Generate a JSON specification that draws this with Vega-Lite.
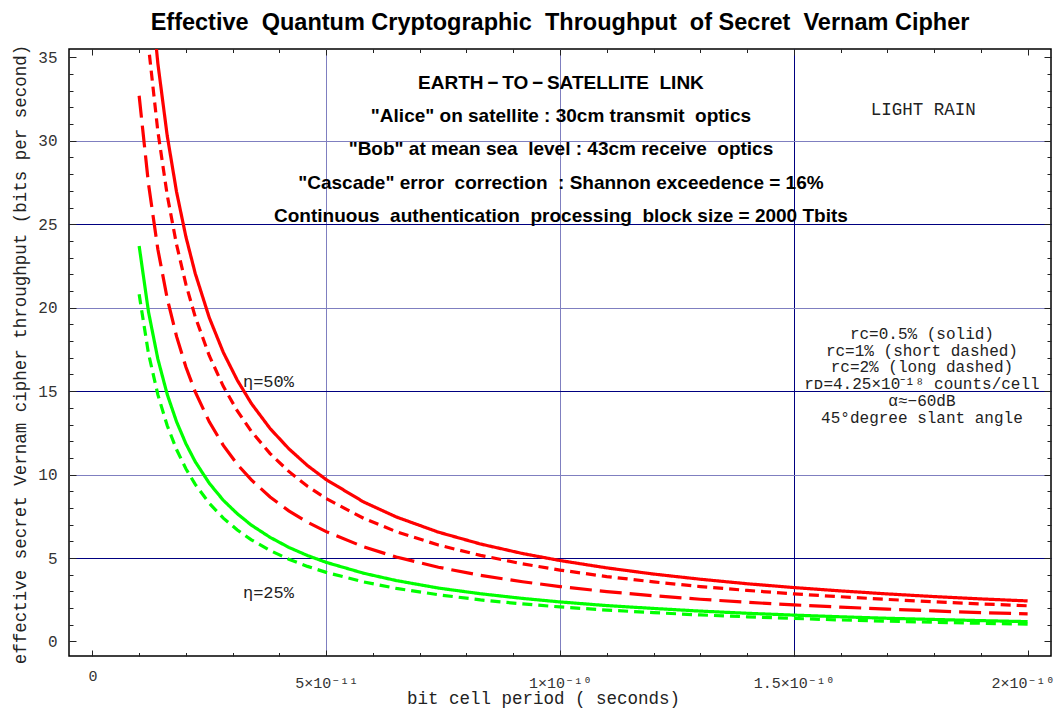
{
  "$schema": "https://vega.github.io/schema/vega-lite/v6.json",
  "width": 982,
  "height": 607,
  "autosize": "none",
  "padding": {"left": 69, "top": 49, "right": 7, "bottom": 52},
  "background": "white",
  "config": {"view": {"stroke": "black", "strokeWidth": 1.5}},
  "title": {
    "text": "Effective\u00a0 Quantum Cryptographic\u00a0 Throughput\u00a0 of Secret\u00a0 Vernam Cipher",
    "font": "Liberation Sans",
    "fontSize": 23.5,
    "fontWeight": "bold",
    "color": "black",
    "anchor": "middle",
    "baseline": "alphabetic",
    "offset": 12,
    "dy": 21
  },
  "layer": [
    {
      "data": {"values": [{}]},
      "mark": {"type": "point", "opacity": 0},
      "encoding": {
        "x": {"datum": 0, "type": "quantitative",
          "scale": {"domain": [-5e-12, 2.05e-10], "nice": false, "zero": false},
          "axis": {"orient": "bottom", "values": [5e-11, 1e-10, 1.5e-10], "grid": true, "ticks": false, "labels": false, "domain": false, "title": null,
            "gridWidth": 1, "gridOpacity": 1,
            "gridColor": {"condition": {"test": "round(datum.value*1e11) === 15", "value": "#000080"}, "value": "#7f7fc0"}}},
        "y": {"datum": 0, "type": "quantitative",
          "scale": {"domain": [-0.87, 35.5], "nice": false, "zero": false},
          "axis": {"orient": "left", "values": [5, 10, 15, 20, 25, 30], "grid": true, "ticks": false, "labels": false, "domain": false, "title": null,
            "gridWidth": 1, "gridOpacity": 1,
            "gridColor": {"condition": {"test": "datum.value % 10 === 5", "value": "#000080"}, "value": "#7f7fc0"}}}
      }
    },
    {
      "data": {"values": [{}]},
      "mark": {"type": "point", "opacity": 0},
      "encoding": {
        "x": {"datum": 0, "type": "quantitative",
          "scale": {"domain": [-5e-12, 2.05e-10], "nice": false, "zero": false},
          "axis": {"orient": "bottom", "values": [0, 1e-11, 2e-11, 3e-11, 4e-11, 5e-11, 6e-11, 7e-11, 8e-11, 9e-11, 1e-10, 1.1e-10, 1.2e-10, 1.3e-10, 1.4e-10, 1.5e-10, 1.6e-10, 1.7e-10, 1.8e-10, 1.9e-10, 2e-10],
            "grid": false, "labels": false, "domain": false, "title": null, "tickColor": "#222222", "tickWidth": 1,
            "tickSize": {"condition": {"test": "round(datum.value*1e11) % 5 === 0", "value": -6}, "value": -3.5}}},
        "y": {"datum": 0, "type": "quantitative",
          "scale": {"domain": [-0.87, 35.5], "nice": false, "zero": false},
          "axis": {"orient": "left", "values": [0, 1, 2, 3, 4, 5, 6, 7, 8, 9, 10, 11, 12, 13, 14, 15, 16, 17, 18, 19, 20, 21, 22, 23, 24, 25, 26, 27, 28, 29, 30, 31, 32, 33, 34, 35],
            "grid": false, "labels": false, "domain": false, "title": null, "tickColor": "#222222", "tickWidth": 1,
            "tickSize": {"condition": {"test": "datum.value % 5 === 0", "value": -7}, "value": -4}}}
      }
    },
    {
      "data": {"values": [{}]},
      "mark": {"type": "point", "opacity": 0},
      "encoding": {
        "x": {"datum": 0, "type": "quantitative",
          "scale": {"domain": [-5e-12, 2.05e-10], "nice": false, "zero": false},
          "axis": {"orient": "top", "values": [0, 1e-11, 2e-11, 3e-11, 4e-11, 5e-11, 6e-11, 7e-11, 8e-11, 9e-11, 1e-10, 1.1e-10, 1.2e-10, 1.3e-10, 1.4e-10, 1.5e-10, 1.6e-10, 1.7e-10, 1.8e-10, 1.9e-10, 2e-10],
            "grid": false, "labels": false, "domain": false, "title": null, "tickColor": "#222222", "tickWidth": 1,
            "tickSize": {"condition": {"test": "round(datum.value*1e11) % 5 === 0", "value": -6}, "value": -3.5}}},
        "y": {"datum": 0, "type": "quantitative",
          "scale": {"domain": [-0.87, 35.5], "nice": false, "zero": false},
          "axis": {"orient": "right", "values": [0, 1, 2, 3, 4, 5, 6, 7, 8, 9, 10, 11, 12, 13, 14, 15, 16, 17, 18, 19, 20, 21, 22, 23, 24, 25, 26, 27, 28, 29, 30, 31, 32, 33, 34, 35],
            "grid": false, "labels": false, "domain": false, "title": null, "tickColor": "#222222", "tickWidth": 1,
            "tickSize": {"condition": {"test": "datum.value % 5 === 0", "value": -7}, "value": -4}}}
      }
    },
    {
      "data": {"values": [
        {"t": 1e-11, "r05": 48.5, "r1": 42.8, "r2": 32.7, "g05": 23.7, "g1": 20.8},
        {"t": 1.2e-11, "r05": 40.42, "r1": 35.67, "r2": 27.42, "g05": 19.75, "g1": 17.25},
        {"t": 1.4e-11, "r05": 34.64, "r1": 30.57, "r2": 23.5, "g05": 16.93, "g1": 14.79},
        {"t": 1.6e-11, "r05": 30.31, "r1": 26.75, "r2": 20.56, "g05": 14.81, "g1": 12.94},
        {"t": 1.8e-11, "r05": 26.94, "r1": 23.78, "r2": 18.28, "g05": 13.17, "g1": 11.5},
        {"t": 2e-11, "r05": 24.25, "r1": 21.4, "r2": 16.45, "g05": 11.85, "g1": 10.35},
        {"t": 2.2e-11, "r05": 22.05, "r1": 19.45, "r2": 14.95, "g05": 10.77, "g1": 9.41},
        {"t": 2.5e-11, "r05": 19.4, "r1": 17.12, "r2": 13.16, "g05": 9.48, "g1": 8.28},
        {"t": 2.8e-11, "r05": 17.32, "r1": 15.29, "r2": 11.75, "g05": 8.46, "g1": 7.39},
        {"t": 3.1e-11, "r05": 15.65, "r1": 13.81, "r2": 10.61, "g05": 7.65, "g1": 6.68},
        {"t": 3.4e-11, "r05": 14.26, "r1": 12.59, "r2": 9.68, "g05": 6.97, "g1": 6.09},
        {"t": 3.8e-11, "r05": 12.76, "r1": 11.26, "r2": 8.66, "g05": 6.24, "g1": 5.45},
        {"t": 4.2e-11, "r05": 11.55, "r1": 10.19, "r2": 7.83, "g05": 5.64, "g1": 4.93},
        {"t": 4.6e-11, "r05": 10.54, "r1": 9.3, "r2": 7.15, "g05": 5.15, "g1": 4.5},
        {"t": 5e-11, "r05": 9.7, "r1": 8.56, "r2": 6.58, "g05": 4.74, "g1": 4.14},
        {"t": 5.8e-11, "r05": 8.36, "r1": 7.38, "r2": 5.67, "g05": 4.09, "g1": 3.57},
        {"t": 6.5e-11, "r05": 7.46, "r1": 6.58, "r2": 5.06, "g05": 3.65, "g1": 3.18},
        {"t": 7.4e-11, "r05": 6.55, "r1": 5.78, "r2": 4.45, "g05": 3.2, "g1": 2.8},
        {"t": 8.3e-11, "r05": 5.84, "r1": 5.16, "r2": 3.96, "g05": 2.86, "g1": 2.49},
        {"t": 9.2e-11, "r05": 5.27, "r1": 4.65, "r2": 3.58, "g05": 2.58, "g1": 2.25},
        {"t": 1e-10, "r05": 4.85, "r1": 4.28, "r2": 3.29, "g05": 2.37, "g1": 2.07},
        {"t": 1.1e-10, "r05": 4.41, "r1": 3.89, "r2": 2.99, "g05": 2.15, "g1": 1.88},
        {"t": 1.2e-10, "r05": 4.04, "r1": 3.57, "r2": 2.74, "g05": 1.98, "g1": 1.73},
        {"t": 1.3e-10, "r05": 3.73, "r1": 3.29, "r2": 2.53, "g05": 1.82, "g1": 1.59},
        {"t": 1.4e-10, "r05": 3.46, "r1": 3.06, "r2": 2.35, "g05": 1.69, "g1": 1.48},
        {"t": 1.5e-10, "r05": 3.23, "r1": 2.85, "r2": 2.19, "g05": 1.58, "g1": 1.38},
        {"t": 1.6e-10, "r05": 3.03, "r1": 2.68, "r2": 2.06, "g05": 1.48, "g1": 1.29},
        {"t": 1.7e-10, "r05": 2.85, "r1": 2.52, "r2": 1.94, "g05": 1.39, "g1": 1.22},
        {"t": 1.8e-10, "r05": 2.69, "r1": 2.38, "r2": 1.83, "g05": 1.32, "g1": 1.15},
        {"t": 1.9e-10, "r05": 2.55, "r1": 2.25, "r2": 1.73, "g05": 1.25, "g1": 1.09},
        {"t": 2e-10, "r05": 2.43, "r1": 2.14, "r2": 1.65, "g05": 1.19, "g1": 1.04}
      ]},
      "transform": [{"fold": ["r2", "r1", "r05", "g05", "g1"], "as": ["curve", "rate"]}],
      "mark": {"type": "line", "clip": true, "strokeWidth": 3.2, "strokeCap": "butt"},
      "encoding": {
        "x": {"field": "t", "type": "quantitative",
          "scale": {"domain": [-5e-12, 2.05e-10], "nice": false, "zero": false},
          "axis": {"orient": "bottom", "values": [0, 5e-11, 1e-10, 1.5e-10, 2e-10], "grid": false, "ticks": false, "domain": false,
            "labelExpr": "round(datum.value*1e11) === 0 ? '0' : round(datum.value*1e11) === 5 ? '5×10⁻¹¹' : round(datum.value*1e11) === 10 ? '1×10⁻¹⁰' : round(datum.value*1e11) === 15 ? '1.5×10⁻¹⁰' : '2×10⁻¹⁰'",
            "labelFont": "Liberation Mono, DejaVu Sans Mono", "labelFontSize": 15, "labelColor": "#333333", "labelFlush": false, "labelOverlap": false,
            "labelBaseline": "middle",
            "labelOffset": {"condition": {"test": "round(datum.value*1e11) === 20", "value": -5}, "value": 0},
            "labelPadding": {"condition": {"test": "datum.value === 0", "value": 19}, "value": 26},
            "title": "bit cell period ( seconds)", "titleFont": "Liberation Mono", "titleFontSize": 17.5, "titleFontWeight": "normal", "titleColor": "#222222",
            "titleX": 474, "titleY": 42, "titleAlign": "center", "titleBaseline": "middle"}},
        "y": {"field": "rate", "type": "quantitative",
          "scale": {"domain": [-0.87, 35.5], "nice": false, "zero": false},
          "axis": {"orient": "left", "values": [0, 5, 10, 15, 20, 25, 30, 35], "grid": false, "ticks": false, "domain": false,
            "labelFont": "Liberation Mono", "labelFontSize": 16, "labelColor": "#333333", "labelPadding": 12, "labelFlush": false,
            "title": "effective secret Vernam cipher throughput (bits per second)", "titleFont": "Liberation Mono", "titleFontSize": 17.5, "titleFontWeight": "normal", "titleColor": "#222222",
            "titleX": -49, "titleY": 305, "titleAngle": -90, "titleAlign": "center", "titleBaseline": "middle"}},
        "color": {"field": "curve", "type": "nominal", "legend": null,
          "scale": {"domain": ["r05", "r1", "r2", "g05", "g1"], "range": ["#ff0000", "#ff0000", "#ff0000", "#00ff00", "#00ff00"]}},
        "strokeDash": {"field": "curve", "type": "nominal", "legend": null,
          "scale": {"domain": ["r05", "r1", "r2", "g05", "g1"], "range": [[1, 0], [10, 6], [22, 8], [1, 0], [10, 6]]}}
      }
    },
    {
      "data": {"values": [{"lines": ["EARTH\u2009−\u2009TO\u2009−\u2009SATELLITE\u00a0 LINK", "\"Alice\" on satellite : 30cm transmit\u00a0 optics", "\"Bob\" at mean sea\u00a0 level : 43cm receive\u00a0 optics", "\"Cascade\" error\u00a0 correction\u00a0 : Shannon exceedence = 16%", "Continuous\u00a0 authentication\u00a0 processing\u00a0 block size = 2000 Tbits"]}]},
      "mark": {"type": "text", "font": "Liberation Sans", "fontSize": 19, "fontWeight": "bold", "color": "black", "align": "center", "baseline": "middle", "lineHeight": 33.2},
      "encoding": {
        "text": {"field": "lines", "type": "nominal"},
        "x": {"datum": 1.002e-10, "type": "quantitative", "axis": null},
        "y": {"datum": 33.46, "type": "quantitative", "axis": null}
      }
    },
    {
      "data": {"values": [{"lines": ["rᴄ=0.5% (solid)", "rᴄ=1% (short dashed)", "rᴄ=2% (long dashed)", "rᴅ=4.25×10⁻¹⁸ counts/cell", "α≈−60dB", "45°degree slant angle"]}]},
      "mark": {"type": "text", "font": "Liberation Mono", "fontSize": 16, "color": "#222222", "align": "center", "baseline": "middle", "lineHeight": 16.8},
      "encoding": {
        "text": {"field": "lines", "type": "nominal"},
        "x": {"datum": 1.774e-10, "type": "quantitative", "axis": null},
        "y": {"datum": 18.44, "type": "quantitative", "axis": null}
      }
    },
    {
      "data": {"values": [{"label": "LIGHT RAIN"}]},
      "mark": {"type": "text", "font": "Liberation Mono", "fontSize": 17.5, "color": "#222222", "align": "center", "baseline": "middle"},
      "encoding": {
        "text": {"field": "label", "type": "nominal"},
        "x": {"datum": 1.777e-10, "type": "quantitative", "axis": null},
        "y": {"datum": 31.87, "type": "quantitative", "axis": null}
      }
    },
    {
      "data": {"values": [{"label": "η=50%"}]},
      "mark": {"type": "text", "font": "Liberation Mono", "fontSize": 17, "color": "#222222", "align": "center", "baseline": "middle"},
      "encoding": {
        "text": {"field": "label", "type": "nominal"},
        "x": {"datum": 3.765e-11, "type": "quantitative", "axis": null},
        "y": {"datum": 15.54, "type": "quantitative", "axis": null}
      }
    },
    {
      "data": {"values": [{"label": "η=25%"}]},
      "mark": {"type": "text", "font": "Liberation Mono", "fontSize": 17, "color": "#222222", "align": "center", "baseline": "middle"},
      "encoding": {
        "text": {"field": "label", "type": "nominal"},
        "x": {"datum": 3.765e-11, "type": "quantitative", "axis": null},
        "y": {"datum": 2.9, "type": "quantitative", "axis": null}
      }
    }
  ],
  "resolve": {"axis": {"x": "independent", "y": "independent"}}
}
